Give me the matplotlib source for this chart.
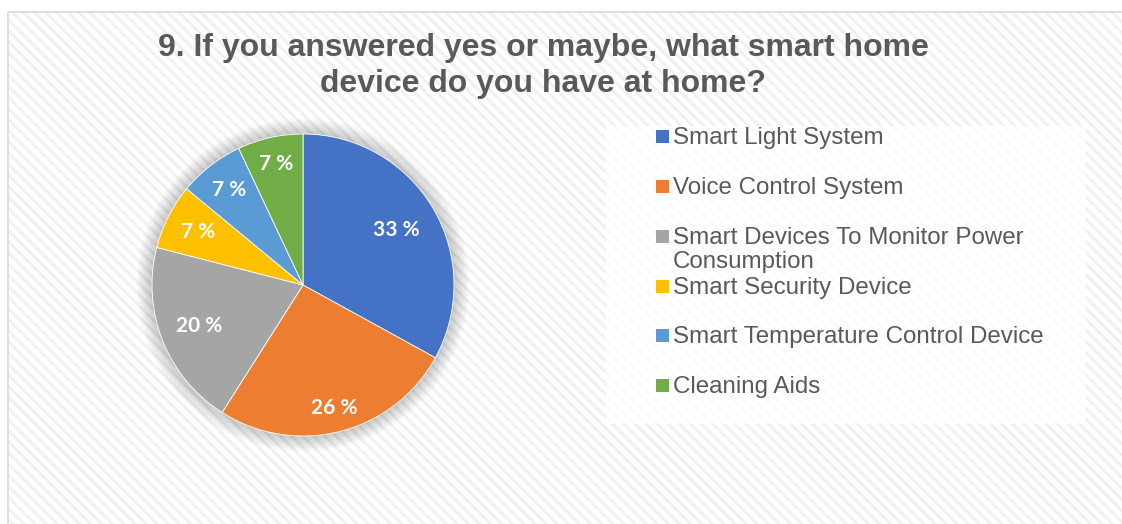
import numpy as np
import matplotlib
matplotlib.use('Agg')
from matplotlib import pyplot as plt
from matplotlib.patches import Rectangle, Circle

devices = ['Smart Light System', 'Voice Control System',
           'Smart Devices To Monitor Power\nConsumption', 'Smart Security Device',
           'Smart Temperature Control Device', 'Cleaning Aids']
shares = [33, 26, 20, 7, 7, 7]
colors = ['#4472c4', '#ed7d31', '#a5a5a5', '#ffc000', '#5b9bd5', '#70ad47']
title = '9. If you answered yes or maybe, what smart home\ndevice do you have at home?'

W, H = 1122, 524
fig = plt.figure(figsize=(W / 100, H / 100), dpi=100)
fig.patch.set_facecolor('white')

# striped chart area background + border
plt.rcParams['hatch.linewidth'] = 2.0
fig.patches.append(Rectangle((8 / W, 0), 1, 1 - 12 / H, transform=fig.transFigure,
                             facecolor='white', edgecolor='#f0f0f0', lw=0,
                             hatch='\\\\\\', zorder=0))
fig.patches.append(Rectangle((8 / W, -0.01), 1, 1 - 12 / H + 0.01, transform=fig.transFigure,
                             facecolor='none', edgecolor='#d9d9d9', lw=1.2, zorder=1))

# legend panel
fig.patches.append(Rectangle((606 / W, 1 - 424 / H), 480 / W, 298 / H,
                             transform=fig.transFigure, facecolor='white',
                             edgecolor='none', alpha=0.8, zorder=1))

fig.text(543 / W, 1 - 66 / H, title, ha='center', va='center', fontsize=23,
         fontweight='bold', color='#595959', family='Liberation Sans',
         linespacing=1.22)

# pie
R = 151
cx, cy = 303, 285
lim = 1.2
side = 2 * lim * R
ax = fig.add_axes([(cx - side / 2) / W, (H - cy - side / 2) / H, side / W, side / H])
ax.set_zorder(2)

# soft shadow around the pie
for k in range(14):
    ax.add_patch(Circle((0, 0), 1.0 + 0.008 * k, facecolor='black', edgecolor='none',
                        alpha=0.014, zorder=0))

wedges, texts, autotexts = ax.pie(shares, colors=colors, startangle=90, counterclock=False,
                                  autopct=lambda p: '%d %%' % round(p), pctdistance=0.78,
                                  wedgeprops=dict(edgecolor='white', linewidth=0.6),
                                  textprops=dict(color='white', fontsize=15,
                                                 fontweight='bold', family='Lato'))
# best-fit style label distances
dists = [0.72, 0.84, 0.74, 0.78, 0.80, 0.82]
for w, t, d in zip(wedges, autotexts, dists):
    a = np.deg2rad((w.theta1 + w.theta2) / 2)
    t.set_position((d * np.cos(a), d * np.sin(a)))
ax.set_xlim(-lim, lim)
ax.set_ylim(-lim, lim)
ax.set_aspect('equal')
ax.axis('off')

# legend entries
ys = [137, 187, 237, 287, 336, 386]
for lab, col, y in zip(devices, colors, ys):
    fig.patches.append(Rectangle((656 / W, 1 - (y + 6) / H), 13 / W, 13 / H,
                                 transform=fig.transFigure, facecolor=col,
                                 edgecolor='none', zorder=3))
    if '\n' in lab:
        fig.text(673 / W, 1 - (y - 10) / H, lab, ha='left', va='top',
                 fontsize=17.4, color='#595959', family='Liberation Sans',
                 linespacing=1.13, zorder=3)
    else:
        fig.text(673 / W, 1 - (y + 1) / H, lab, ha='left', va='center',
                 fontsize=17.4, color='#595959', family='Liberation Sans', zorder=3)

fig.savefig('out.png', dpi=100)
